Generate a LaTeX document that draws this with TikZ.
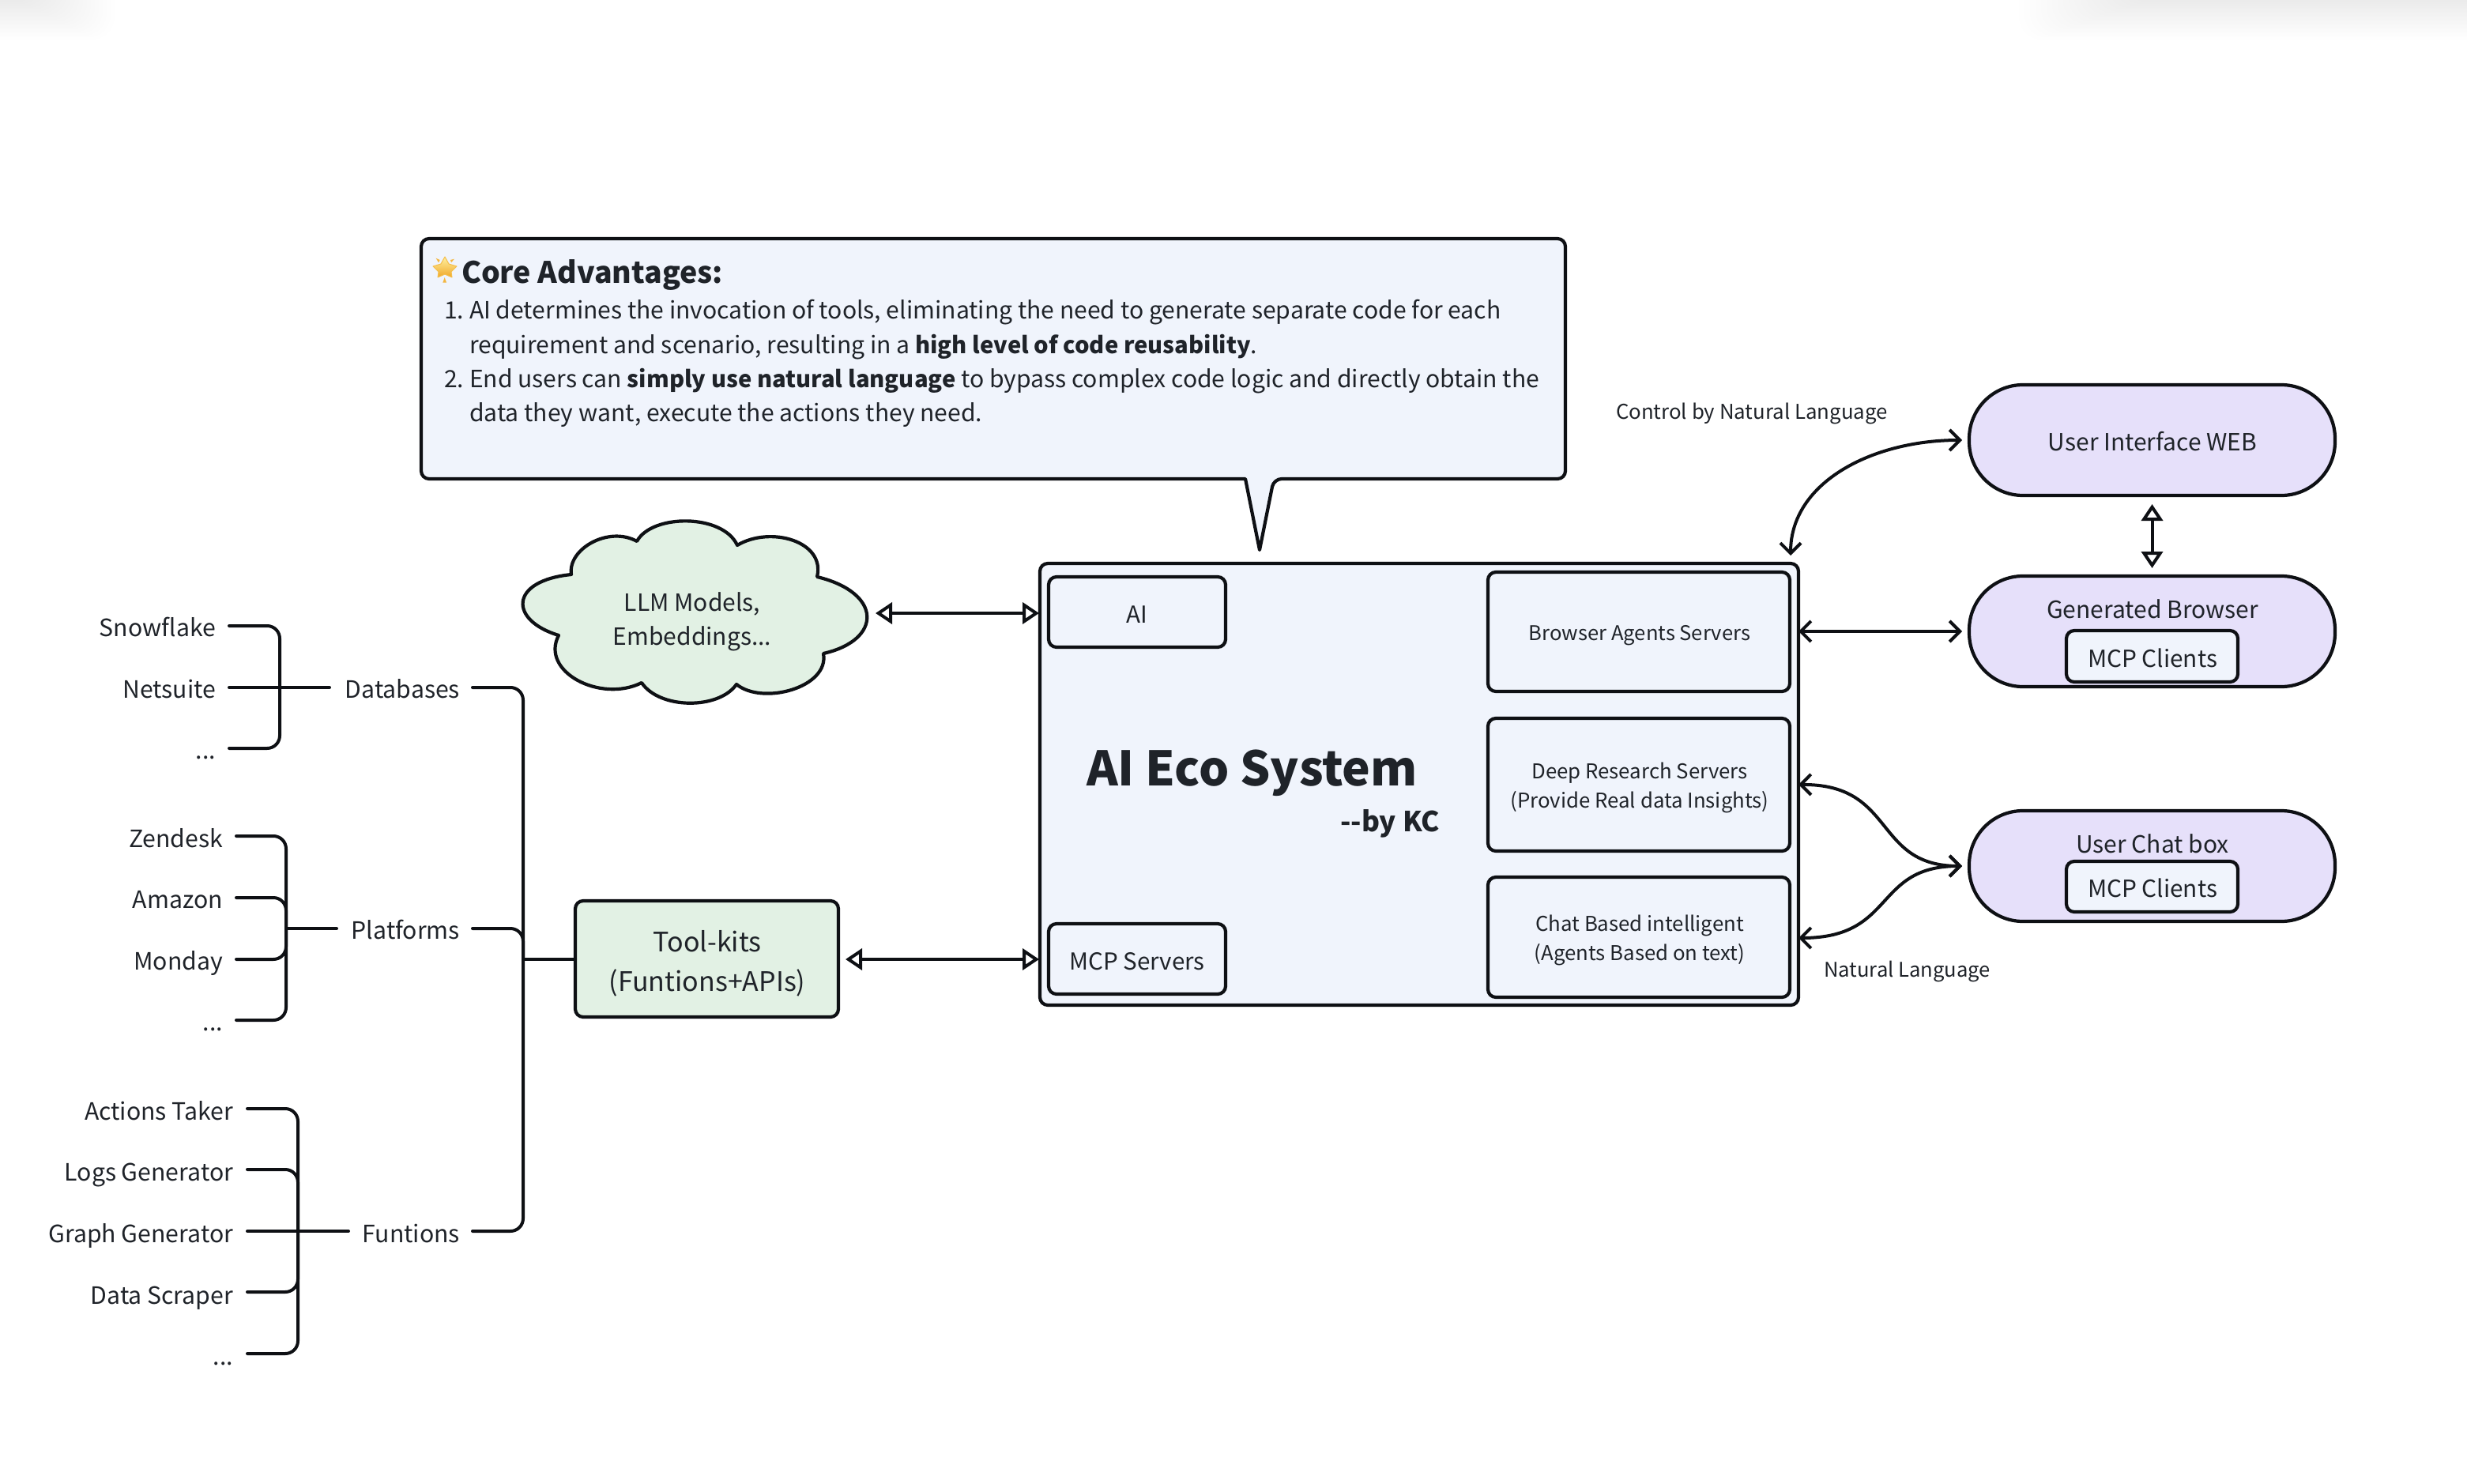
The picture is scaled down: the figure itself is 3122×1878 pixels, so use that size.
\documentclass[tikz,border=0pt]{standalone}
\usepackage{fontspec}
\usetikzlibrary{arrows.meta,calc}
\setmainfont{Noto Sans CJK SC}
\definecolor{ink}{HTML}{0E1014}
\definecolor{txt}{HTML}{1F2329}
\definecolor{bluefill}{HTML}{F0F4FC}
\definecolor{greenfill}{HTML}{E2F1E4}
\definecolor{purplefill}{HTML}{E6E0FA}
\definecolor{gold}{HTML}{F0A828}
\definecolor{goldlight}{HTML}{FFF0A0}
\newcommand\pxbox[6]{\node[#6,minimum width={(#4-#2)*0.5pt},minimum height={(#5-#3)*0.5pt}] (#1) at ({(#2+#4)/2},{(#3+#5)/2}) {};}
\newcommand\fs[1]{\fontsize{#1}{#1}\selectfont}
\newcommand\bolder[1]{{\fs{14.6}\bfseries #1}}
\tikzset{
  x=0.5pt,y=-0.5pt,
  outline/.style={draw=ink,line width=2.1pt,line join=round},
  boxbase/.style={outline,rectangle,rounded corners=5pt,inner sep=0pt,outer sep=0pt,align=center,text=txt},
  bluebox/.style={boxbase,fill=bluefill},
  greenbox/.style={boxbase,fill=greenfill},
  pill/.style={boxbase,fill=purplefill,rounded corners=34pt},
  wire/.style={draw=ink,line width=2pt,rounded corners=8pt,line cap=round},
  barbs/.style={draw=ink,line width=2pt,{Straight Barb[length=6.5pt,width=13pt,line width=2pt]}-{Straight Barb[length=6.5pt,width=13pt,line width=2pt]}},
  hollow/.style={draw=ink,line width=2pt,{Triangle[open,fill=white,length=10.5pt,width=13.5pt,line width=2pt]}-{Triangle[open,fill=white,length=10.5pt,width=13.5pt,line width=2pt]}},
  lbl/.style={text=txt,inner sep=0pt,outer sep=0pt,align=center},
  leaf/.style={lbl,anchor=base east,font=\fs{15.1}},
  listline/.style={lbl,anchor=base west,font=\fs{15.05}},
}
\begin{document}
\begin{tikzpicture}
\useasboundingbox (0,0) rectangle (3122,1878);
% soft top shadows
\foreach \i in {0,...,19}{
  \fill[black,opacity=0.0035,rounded corners=14pt] (-80,-80) rectangle ({145-5*\i},{50-2.5*\i});
  \fill[black,opacity=0.0035,rounded corners=14pt] ({2555+7*\i},-80) rectangle (3200,{50-2.5*\i});
}
% callout
\draw[outline,fill=bluefill,rounded corners=5pt] (1576,606) -- (533,606) -- (533,302) -- (1981,302) -- (1981,606) -- (1612,606) [sharp corners] -- (1594,696) -- cycle;
% glowing star
\shade[top color=goldlight,bottom color=gold,draw=gold!70!goldlight,line width=0.5pt,line join=round] (563,325) -- (568,334) -- (578,337) -- (571,344) -- (572,351) -- (563,347) -- (554,351) -- (555,344) -- (548,337) -- (558,334) -- cycle;
\fill[gold!80!goldlight] (551.7,326.7) -- (556.7,329) -- (555,332.3) -- cycle;
\fill[gold!80!goldlight] (575,327.7) -- (570,329) -- (571,332.3) -- cycle;
\fill[gold!80!goldlight] (562.7,351) -- (560.3,357.7) -- (565,357.7) -- cycle;
\node[lbl,anchor=base west,font=\fs{18.75}\bfseries] (coreh) at (584,358) {Core Advantages:};
\node[listline] (n1) at (562,403.5) {1.};
\node[listline] (l1) at (594,403.5) {AI determines the invocation of tools, eliminating the need to generate separate code for each};
\node[listline] (l2) at (594,447.5) {requirement and scenario, resulting in a \bolder{high level of code reusability}.};
\node[listline] (n2) at (562,490.5) {2.};
\node[listline] (l3) at (594,490.5) {End users can \bolder{simply use natural language} to bypass complex code logic and directly obtain the};
\node[listline] (l4) at (594,533.5) {data they want, execute the actions they need.};
% cloud
\draw[outline,fill=greenfill] (723,727) .. controls (718,695) and (770,665) .. (806,685)
  .. controls (825,650) and (915,650) .. (933,690)
  .. controls (975,665) and (1045,685) .. (1034,730)
  .. controls (1117,750) and (1117,810) .. (1042,827)
  .. controls (1050,870) and (965,893) .. (932,866)
  .. controls (910,898) and (835,898) .. (812,864)
  .. controls (760,890) and (683,850) .. (707,804)
  .. controls (644,785) and (644,735) .. (723,727) -- cycle;
\node[lbl,font=\fs{15}] (cloud) at (876,787) {LLM Models,\\[6.75pt]Embeddings...};
\coordinate (cloudr) at (1108,776);
% main box
\pxbox{main}{1316}{713}{2276}{1272}{bluebox}
\pxbox{aibox}{1327}{730}{1551}{819}{bluebox}
\node[lbl,font=\fs{14.8}] (ait) at (1439,778) {AI};
\pxbox{mcps}{1327}{1169}{1551}{1258}{bluebox}
\node[lbl,font=\fs{14.8}] (mcpst) at (1439,1217) {MCP Servers};
\pxbox{brow}{1883}{724}{2265}{875}{bluebox}
\node[lbl,font=\fs{12.8}] (browt) at (2075,804) {Browser Agents Servers};
\pxbox{deep}{1883}{909}{2265}{1077}{bluebox}
\node[lbl,font=\fs{12.9}] (deept) at (2075,997) {Deep Research Servers\\[4pt](Provide Real data Insights)};
\pxbox{chat}{1883}{1110}{2265}{1262}{bluebox}
\node[lbl,font=\fs{12.9}] (chatt) at (2075,1190) {Chat Based intelligent\\[4pt](Agents Based on text)};
\node[lbl,anchor=base west,font=\fs{30.1}\bfseries] (title) at (1375,994) {AI Eco System};
\node[lbl,anchor=base east,font=\fs{17.5}\bfseries] (byline) at (1822,1052) {{-}{-}by KC};
% tool kits
\pxbox{tools}{728}{1140}{1061}{1287}{greenbox}
\node[lbl,font=\fs{17}] (toolst) at (895,1219) {Tool-kits\\[8pt](Funtions+APIs)};
% pills
\pxbox{web}{2492}{487}{2955}{627}{pill}
\node[lbl,font=\fs{15}] (webt) at (2724,559) {User Interface WEB};
\pxbox{genb}{2492}{729}{2955}{869}{pill}
\node[lbl,font=\fs{15}] (gent) at (2724,771) {Generated Browser};
\pxbox{mcpa}{2615}{798}{2832}{863}{bluebox}
\node[lbl,font=\fs{14.9}] (mcpat) at (2724,833) {MCP Clients};
\pxbox{ucb}{2492}{1026}{2955}{1166}{pill}
\node[lbl,font=\fs{15}] (ucbt) at (2724,1068) {User Chat box};
\pxbox{mcpb}{2615}{1090}{2832}{1154}{bluebox}
\node[lbl,font=\fs{14.9}] (mcpbt) at (2724,1124) {MCP Clients};
% labels
\node[lbl,font=\fs{12.9},anchor=west] (ctl) at (2045,523) {Control by Natural Language};
\node[lbl,font=\fs{12.8},anchor=west] (nl) at (2308,1230) {Natural Language};
% arrows
\coordinate (maintop) at (2266,703);
\draw[barbs] (maintop) .. controls (2266,610) and (2370,557) .. ([xshift=-4.5pt]web.west);
\draw[hollow] ([yshift=-5.5pt]web.south) -- ([yshift=5pt]genb.north);
\draw[barbs] (main.east |- genb.west) -- ([xshift=-4.5pt]genb.west);
\coordinate (chatin) at ([xshift=-4.5pt]ucb.west);
\draw[barbs] (main.east |- deep.east) .. controls (2400,992) and (2370,1096) .. (chatin);
\coordinate (chatout) at (2276,1187);
\draw[barbs] (chatout) .. controls (2400,1187) and (2370,1096) .. (chatin);
\coordinate (mainl1) at (1315,776);
\coordinate (mainl2) at (1315,1214);
\coordinate (toolsr) at (1070,1214);
\draw[hollow] (cloudr) -- (mainl1);
\draw[hollow] (toolsr) -- (mainl2);
% left tree labels
\node[leaf] (snow) at (273,805) {Snowflake};
\node[leaf] (nets) at (273,883) {Netsuite};
\node[leaf] (d1) at (273,960) {...};
\node[leaf] (zen) at (282,1072) {Zendesk};
\node[leaf] (ama) at (282,1149) {Amazon};
\node[leaf] (mon) at (282,1227) {Monday};
\node[leaf] (d2) at (282,1304) {...};
\node[leaf] (act) at (295,1417) {Actions Taker};
\node[leaf] (logs) at (295,1494) {Logs Generator};
\node[leaf] (grf) at (295,1572) {Graph Generator};
\node[leaf] (scr) at (295,1650) {Data Scraper};
\node[leaf] (d3) at (295,1727) {...};
\node[leaf] (dbs) at (582,883) {Databases};
\node[leaf] (plat) at (582,1188) {Platforms};
\node[leaf] (fun) at (582,1572) {Funtions};
% tree 1
\coordinate (a1) at (290,792); \coordinate (a2) at (290,870); \coordinate (a3) at (290,947);
\coordinate (abar) at (354,870); \coordinate (adb) at (417,870);
\draw[wire] (a1) -| (abar) |- (a3);
\draw[wire] (a2) -- (adb);
% tree 2
\coordinate (b1) at (299,1058); \coordinate (b2) at (299,1136); \coordinate (b3) at (299,1214); \coordinate (b4) at (299,1291);
\coordinate (bbar) at (362,1175); \coordinate (bp) at (426,1175);
\draw[wire] (b1) -| (bbar) |- (b4);
\draw[wire] (b2) -| (bbar);
\draw[wire] (b3) -| (bbar);
\draw[wire] (bbar) -- (bp);
% tree 3
\coordinate (c1) at (313,1403); \coordinate (c2) at (313,1480); \coordinate (c3) at (313,1558); \coordinate (c4) at (313,1635); \coordinate (c5) at (313,1713);
\coordinate (cbar) at (377,1558); \coordinate (cf) at (441,1558);
\draw[wire] (c1) -| (cbar) |- (c5);
\draw[wire] (c2) -| (cbar);
\draw[wire] (c4) -| (cbar);
\draw[wire] (c3) -- (cf);
% trunk
\coordinate (t1) at (598,870); \coordinate (t2) at (598,1175); \coordinate (t3) at (598,1558);
\coordinate (tbar) at (662,1214);
\draw[wire] (t1) -| (tbar) |- (t3);
\draw[wire] (t2) -| (tbar);
\draw[wire] (tbar) -- (tools.west |- tbar);
\end{tikzpicture}
\end{document}
